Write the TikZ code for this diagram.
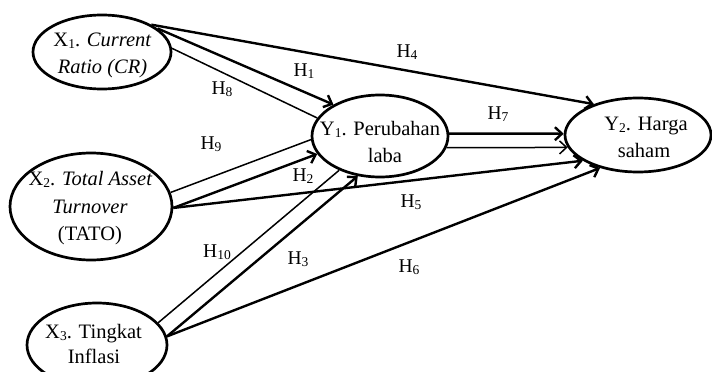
\documentclass[tikz,border=0pt]{standalone}
\usepackage{fontspec}
\setmainfont{Liberation Serif}
\usetikzlibrary{shapes.geometric,arrows.meta}
\newcommand\subsc[1]{\raisebox{-2pt}{\fontsize{13.5}{13.5}\selectfont #1}}
\newcommand\hlab[1]{H\subsc{#1}}
\tikzset{
  ell/.style={draw, ellipse, line width=2.7pt, inner sep=0pt},
  txt/.style={anchor=base, inner sep=0pt, font=\fontsize{20.5}{27}\selectfont},
  hyp/.style={inner sep=0pt, font=\fontsize{19.5}{24}\selectfont},
  thick line/.style={line width=2.4pt},
  thin line/.style={line width=1.5pt},
  arr/.style={-{Straight Barb[length=7pt,width=13pt]}}
}
\begin{document}
\begin{tikzpicture}[x=1pt,y=-1pt]
\useasboundingbox (0,0) rectangle (712,372);
\clip (0,0) rectangle (712,372);
% ellipses
\node[ell, minimum width=138pt, minimum height=74pt] (x1) at (102,52) {};
\node[ell, minimum width=162pt, minimum height=107pt] (x2) at (91,206.5) {};
\node[ell, minimum width=140pt, minimum height=84pt] (x3) at (97,345) {};
\node[ell, minimum width=136pt, minimum height=82pt] (y1) at (380,136) {};
\node[ell, minimum width=146pt, minimum height=74pt] (y2) at (638,135) {};
% texts
\node[txt] (x1a) at (102.5,46) {X\subsc{1}. \textit{Current}};
\node[txt] (x1b) at (102.5,73) {\textit{Ratio (CR)}};
\node[txt] (x2a) at (90.5,185) {X\subsc{2}. \textit{Total Asset}};
\node[txt] (x2b) at (90,213) {\textit{Turnover}};
\node[txt] (x2c) at (90,240) {(TATO)};
\node[txt] (x3a) at (93.5,338) {X\subsc{3}. Tingkat};
\node[txt] (x3b) at (94,363) {Inflasi};
\node[txt] (y1a) at (380,135) {Y\subsc{1}. Perubahan};
\node[txt] (y1b) at (385,162) {laba};
\node[txt] (y2a) at (646,130) {Y\subsc{2}. Harga};
\node[txt] (y2b) at (644,157) {saham};
% connectors
\draw[thick line, arr] (x1.29) -- (y2.145);
\draw[thick line, arr] (x1.23) -- (y1.146);
\draw[thin line] (x1.3) -- (y1.164);
\draw[thin line] (x2.10) -- (y1.183);
\draw[thick line, arr] (x2.-1) -- (y1.196.6);
\draw[thick line, arr] (x2.-1) -- (y2.205);
\draw[thin line] (x3.20) -- (y1.220);
\draw[thick line, arr] (x3.7) -- (y1.241);
\draw[thick line, arr] (x3.7) -- (y2.221);
\draw[thick line, arr] (y1.2) -- (y2.179);
\draw[thin line, arr] (y1.-10) -- (y2.190);
% hypothesis labels
\node[hyp] (h1) at (304,71) {\hlab{1}};
\node[hyp] (h2) at (303,176) {\hlab{2}};
\node[hyp] (h3) at (298,259) {\hlab{3}};
\node[hyp] (h4) at (407,52) {\hlab{4}};
\node[hyp] (h5) at (411,202) {\hlab{5}};
\node[hyp] (h6) at (409,267) {\hlab{6}};
\node[hyp] (h7) at (498,114) {\hlab{7}};
\node[hyp] (h8) at (222,89) {\hlab{8}};
\node[hyp] (h9) at (211,144) {\hlab{9}};
\node[hyp] (h10) at (217,252) {\hlab{10}};
\end{tikzpicture}
\end{document}
